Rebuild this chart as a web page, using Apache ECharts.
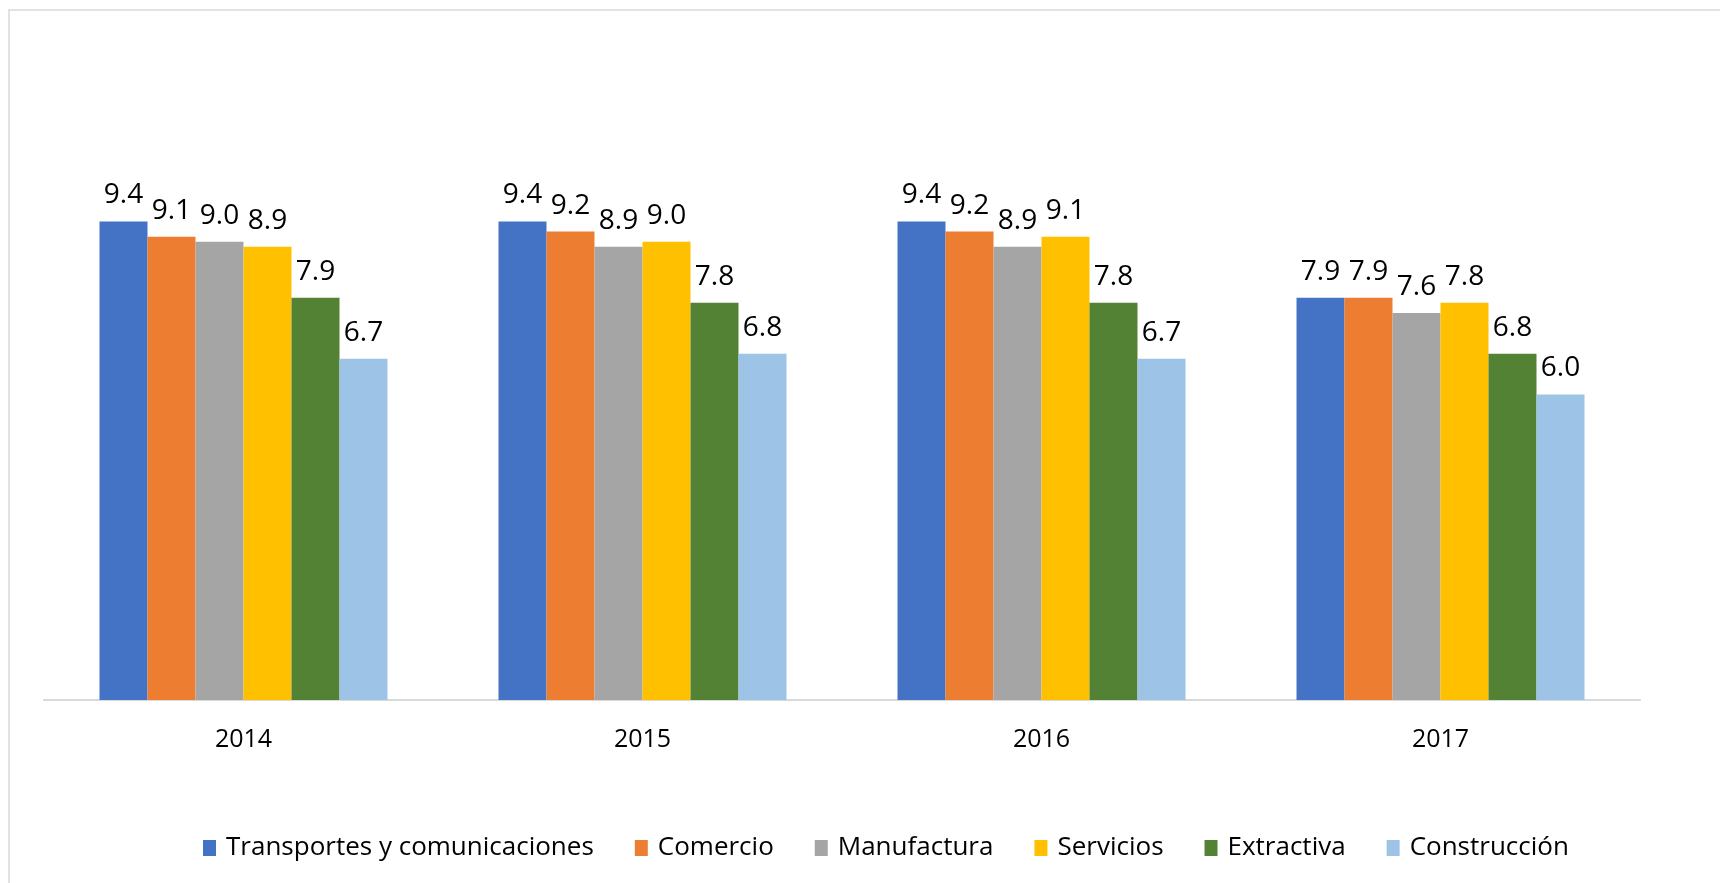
<!DOCTYPE html>
<html>
<head>
<meta charset="utf-8">
<script src="https://cdn.jsdelivr.net/npm/echarts@6/dist/echarts.min.js"></script>
<style>
html,body{margin:0;padding:0;background:#fff;}
#c{width:1720px;height:883px;}
</style>
</head>
<body>
<div id="c"></div>
<script>
const categories = ['2014', '2015', '2016', '2017'];
const seriesNames = ['Transportes y comunicaciones', 'Comercio', 'Manufactura', 'Servicios', 'Extractiva', 'Construcción'];
const transportes = [9.4, 9.4, 9.4, 7.9];
const comercio = [9.1, 9.2, 9.2, 7.9];
const manufactura = [9.0, 8.9, 8.9, 7.6];
const servicios = [8.9, 9.0, 9.1, 7.8];
const extractiva = [7.9, 7.8, 7.8, 6.8];
const construccion = [6.7, 6.8, 6.7, 6.0];
const colors = ['#4472C4', '#ED7D31', '#A5A5A5', '#FFC000', '#548235', '#9DC3E6'];

const values = [transportes, comercio, manufactura, servicios, extractiva, construccion];
const FONT = '"Open Sans", "Noto Sans", sans-serif';

const chart = echarts.init(document.getElementById('c'));
chart.setOption({
  animation: false,
  color: colors,
  graphic: [{
    type: 'rect',
    shape: { x: 9, y: 10, width: 1760, height: 920 },
    style: { fill: 'none', stroke: '#D9D9D9', lineWidth: 1.5 },
    silent: true, z: -1
  }],
  grid: { left: 44, right: 80, top: 89, bottom: 183, containLabel: false },
  legend: {
    bottom: 17,
    left: 198,
    itemWidth: 13,
    itemHeight: 16,
    itemGap: 41,
    icon: 'rect',
    textStyle: { fontFamily: FONT, fontSize: 26, color: '#000', padding: [0, 0, 0, 5] },
    data: seriesNames
  },
  xAxis: {
    type: 'category',
    data: categories,
    axisLine: { lineStyle: { color: '#D9D9D9', width: 2 } },
    axisTick: { show: false },
    axisLabel: { fontFamily: FONT, fontSize: 25, color: '#000', margin: 27 }
  },
  yAxis: {
    type: 'value',
    min: 0, max: 12,
    show: false,
    splitLine: { show: false }
  },
  series: seriesNames.map((n, i) => ({
    name: n,
    type: 'bar',
    data: values[i],
    barWidth: 48,
    barGap: '0%',
    itemStyle: { color: colors[i] },
    label: {
      show: true,
      position: 'top',
      distance: 12,
      fontFamily: FONT,
      fontSize: 28,
      color: '#000',
      formatter: p => p.value.toFixed(1)
    }
  }))
});
</script>
</body>
</html>
